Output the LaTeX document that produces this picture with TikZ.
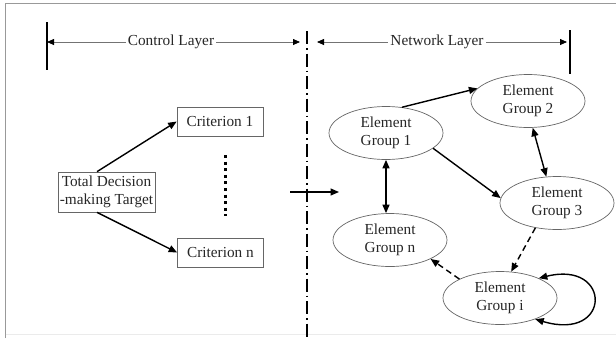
\documentclass[tikz,border=0pt]{standalone}
\usepackage{fontspec}
\setmainfont{Liberation Serif}
\usetikzlibrary{shapes.geometric,arrows.meta}
\begin{document}
\begin{tikzpicture}[x=1pt,y=1pt]
    \tikzstyle{every node}+=[inner sep=0pt, font=\fontsize{15.3}{17.5}\selectfont, text=black!85]
    \tikzstyle{group}=[draw=black!60, line width=0.7pt, ellipse, minimum width=114, minimum height=53, align=center]
    \tikzstyle{crit}=[draw=black!60, line width=0.7pt, minimum width=86, minimum height=29]
    \tikzstyle{link}=[black, line width=1.4pt, -{Triangle[length=8.5pt,width=7pt]}]
    \tikzstyle{twoway}=[link, {Triangle[length=8.5pt,width=7pt]}-{Triangle[length=8.5pt,width=7pt]}]
    \tikzstyle{span}=[black!55, line width=0.8pt, {Triangle[length=7pt,width=6pt,black]}-{Triangle[length=7pt,width=6pt,black]}]
    \useasboundingbox (0,0) rectangle (616,-338);
    % frame
    \draw [black!40, line width=1.5pt] (5.5,-338) -- (5.5,-3.5) -- (616,-3.5);
    \draw [black!8, line width=1pt] (5.5,-334) -- (616,-334);
    % layer headers
    \coordinate (cl1) at (47,-42);
    \coordinate (cl2) at (300,-42);
    \coordinate (nl1) at (317,-42);
    \coordinate (nl2) at (567,-42);
    \draw [black, line width=2.2pt] (47,-22) -- (47,-70);
    \draw [black, line width=2.2pt] (570,-30) -- (570,-74);
    \draw [span] (cl1) -- node[pos=0.49, fill=white, inner xsep=2pt] {Control Layer} (cl2);
    \draw [span] (nl1) -- node[pos=0.48, fill=white, inner xsep=2pt] {Network Layer} (nl2);
    \draw [black, line width=1.3pt, dash pattern=on 13pt off 4pt on 1.5pt off 4pt] (307,-31) -- (307,-338);
    % control layer
    \node [crit, align=center, minimum width=97, minimum height=40] (target) at (106.5,-192) {Total Decision\\-making Target};
    \node [crit] (crit1) at (220,-121.5) {Criterion 1};
    \node [crit] (critn) at (220.5,-252.5) {Criterion n};
    \draw [link] (target.115) -- (crit1.west);
    \draw [link] (target.-115) -- (critn.west);
    \draw [black, line width=3pt, dash pattern=on 3pt off 3.6pt] (225,-155) -- (225,-216);
    % network layer
    \coordinate (in1) at (290,-192);
    \coordinate (in2) at (339,-192);
    \draw [link] (in1) -- (in2);
    \node [group] (g1) at (386,-133) {Element\\Group 1};
    \node [group] (g2) at (528,-101) {Element\\Group 2};
    \node [group] (g3) at (557,-203) {Element\\Group 3};
    \node [group] (gn) at (390,-240) {Element\\Group n};
    \node [group] (gi) at (500,-298) {Element\\Group i};
    \draw [link] (g1.58) -- (g2.166);
    \draw [link] (g1.-18) -- (g3.175);
    \draw [twoway] (g2.-80) -- (g3.112);
    \draw [twoway] (g1.south) -- (g1.south |- gn.north);
    \draw [link, dash pattern=on 6pt off 4pt] (g3.-131) -- (gi.67);
    \draw [link, dash pattern=on 6pt off 4pt] (gi.155) -- (gn.-25);
    \draw [twoway] (gi.27) .. controls (612,-260) and (612,-342) .. (gi.-31);
\end{tikzpicture}
\end{document}
